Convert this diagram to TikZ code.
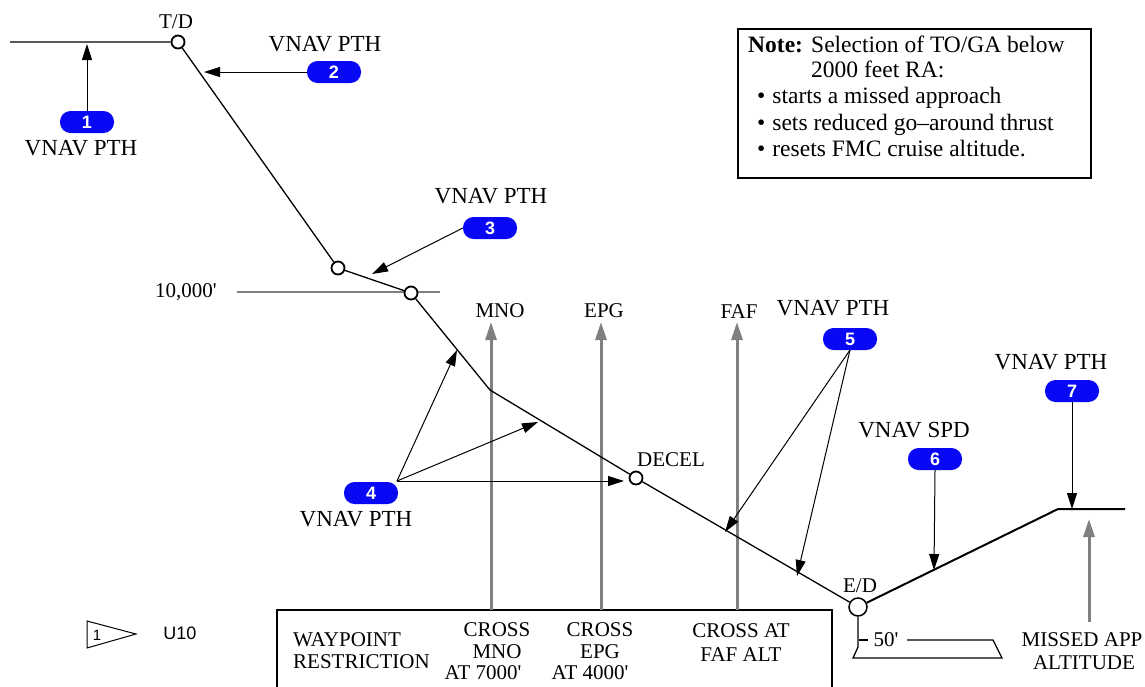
\documentclass[tikz,border=0pt]{standalone}
\usepackage{fontspec}
\setmainfont{Liberation Serif}
\newfontfamily\sansf{Liberation Sans}
\usetikzlibrary{arrows.meta}
\definecolor{badgeblue}{RGB}{8,8,245}
\definecolor{wpgray}{RGB}{128,128,128}
\newcommand{\ft}{\textquotesingle}
\tikzset{
  lbl/.style={inner sep=0pt, font=\fontsize{21}{22}\selectfont},
  modelbl/.style={inner sep=0pt, font=\fontsize{23}{24}\selectfont},
  notetxt/.style={inner sep=0pt, anchor=base west, font=\fontsize{23.5}{27}\selectfont},
  badge/.style={rectangle, rounded corners=10.5pt, fill=badgeblue, text=white,
    minimum width=54pt, minimum height=22pt, inner sep=0pt,
    font=\sansf\bfseries\fontsize{18}{18}\selectfont},
  wpt/.style={circle, draw, fill=white, line width=1.8pt, minimum size=13pt, inner sep=0pt},
  edwpt/.style={circle, draw, fill=white, line width=1.5pt, minimum size=18pt, inner sep=0pt},
  profile/.style={line width=1.3pt},
  callout/.style={line width=1pt, -{Triangle[length=16pt,width=10pt]}},
  grayarrow/.style={wpgray, line width=3pt, -{Triangle[length=18pt,width=11pt]}},
  grayline/.style={wpgray, line width=2pt},
}
\begin{document}
\begin{tikzpicture}[x=1pt,y=-1pt]
\useasboundingbox (0,0) rectangle (1145,686);

% 10,000 ft reference line
\draw[grayline] (237,292) -- (440,292);
\node[lbl] (tenk) at (186,292) {10,000\ft};

% waypoint restriction box
\draw[line width=1.3pt] (277,690) -- (277,610) -- (832,610) -- (832,690);

% gray waypoint arrows
\coordinate (mnoB) at (491,610); \coordinate (mnoT) at (491,322);
\coordinate (epgB) at (601,610); \coordinate (epgT) at (601,322);
\coordinate (fafB) at (737,610); \coordinate (fafT) at (737,322);
\coordinate (mapB) at (1089,622); \coordinate (mapT) at (1089,519);
\draw[grayarrow] (mnoB) -- (mnoT);
\draw[grayarrow] (epgB) -- (epgT);
\draw[grayarrow] (fafB) -- (fafT);
\draw[grayarrow] (mapB) -- (mapT);
\node[lbl] (mnoL) at (500,311) {MNO};
\node[lbl] (epgL) at (604,311) {EPG};
\node[lbl] (fafL) at (739,312) {FAF};

% vertical profile
\coordinate (start) at (10,42);
\node[wpt] (td) at (178,42) {};
\node[wpt] (c1) at (338,268) {};
\node[wpt] (c2) at (411,293) {};
\coordinate (bend) at (490,390);
\node[wpt] (decel) at (636,478) {};
\node[edwpt] (ed) at (858,607) {};
\coordinate (ma) at (1058,509);
\coordinate (maend) at (1125,509);
\draw[profile] (start) -- (td) -- (c1) -- (c2) -- (bend) -- (decel) -- (ed);
\draw[line width=2pt] (ed) -- (ma) -- (maend);

\node[lbl] (tdL) at (176,22) {T/D};
\node[lbl] (decelL) at (671,460) {DECEL};
\node[lbl] (edL) at (860,586) {E/D};

% runway / 50 ft
\coordinate (r1) at (858,647); \coordinate (r2) at (853,658);
\coordinate (r3) at (1002,658); \coordinate (r4) at (993,640);
\coordinate (r5) at (907,640);
\draw[line width=1.3pt] (ed) -- (r1) -- (r2) -- (r3) -- (r4) -- (r5);
\coordinate (t1) at (859,640); \coordinate (t2) at (868,640);
\draw[line width=1.3pt] (t1) -- (t2);
\node[lbl] (fifty) at (886,640) {50\ft};

% badges and labels
\node[badge] (b1) at (87,122) {1};
\node[modelbl] (b1L) at (81,148) {VNAV PTH};
\node[badge] (b2) at (334,72) {2};
\node[modelbl] (b2L) at (325,44) {VNAV PTH};
\node[badge] (b3) at (490,228) {3};
\node[modelbl] (b3L) at (491,196) {VNAV PTH};
\node[badge] (b4) at (371,493) {4};
\node[modelbl] (b4L) at (356,519) {VNAV PTH};
\node[badge] (b5) at (850,339) {5};
\node[modelbl] (b5L) at (833,308) {VNAV PTH};
\node[badge] (b6) at (935,459) {6};
\node[modelbl] (b6L) at (914,430) {VNAV SPD};
\node[badge] (b7) at (1072,391) {7};
\node[modelbl] (b7L) at (1051,362) {VNAV PTH};

% callout arrows
\coordinate (a1) at (87,44);
\coordinate (a2) at (204,72);
\coordinate (a3) at (372,274);
\coordinate (b4o) at (397,481);
\coordinate (a4a) at (457,350);
\coordinate (a4b) at (538,422);
\coordinate (a4c) at (624,481);
\coordinate (b5o) at (850,350);
\coordinate (a5a) at (725,532);
\coordinate (a5b) at (797,576);
\coordinate (a6) at (934,570);
\coordinate (a7) at (1072,509);
\draw[callout] (b1.north) -- (a1);
\draw[callout] (b2.west) -- (a2);
\draw[callout] (b3.west) -- (a3);
\draw[callout] (b4o) -- (a4a);
\draw[callout] (b4o) -- (a4b);
\draw[callout] (b4o) -- (a4c);
\draw[callout] (b5o) -- (a5a);
\draw[callout] (b5o) -- (a5b);
\draw[callout] (b6.south) -- (a6);
\draw[callout] (b7.south) -- (a7);

% restriction texts
\node[lbl, anchor=west] (wp1) at (293,640) {WAYPOINT};
\node[lbl, anchor=west] (wp2) at (293,662) {RESTRICTION};
\node[lbl] (m1) at (497,630) {CROSS};
\node[lbl] (m2) at (497,652) {MNO};
\node[lbl] (m3) at (483,673) {AT 7000\ft};
\node[lbl] (e1) at (600,630) {CROSS};
\node[lbl] (e2) at (600,652) {EPG};
\node[lbl] (e3) at (590,673) {AT 4000\ft};
\node[lbl] (f1) at (741,631) {CROSS AT};
\node[lbl] (f2) at (741,655) {FAF ALT};
\node[lbl] (ma1) at (1082,640) {MISSED APP};
\node[lbl] (ma2) at (1084,663) {ALTITUDE};

% note box
\draw[line width=1.5pt] (738,29) rectangle (1091,178);
\node[notetxt] (n0) at (748,52) {\textbf{Note:}};
\node[notetxt] (n1) at (811,52) {Selection of TO/GA below};
\node[notetxt] (n2) at (811,77) {2000 feet RA:};
\node[notetxt] (n3) at (757,103) {\textbullet\hspace{7pt}starts a missed approach};
\node[notetxt] (n4) at (757,130) {\textbullet\hspace{7pt}sets reduced go--around thrust};
\node[notetxt] (n5) at (757,156) {\textbullet\hspace{7pt}resets FMC cruise altitude.};

% flag symbol
\coordinate (f0) at (87,621); \coordinate (ftip) at (136,634); \coordinate (fb) at (87,648);
\draw[line width=1pt] (f0) -- (ftip) -- (fb) -- cycle;
\node[inner sep=0pt, font=\sansf\fontsize{15}{15}\selectfont] (flag1) at (97,635) {1};
\node[inner sep=0pt, font=\sansf\fontsize{18}{18}\selectfont] (u10) at (180,633) {U10};
\end{tikzpicture}
\end{document}
